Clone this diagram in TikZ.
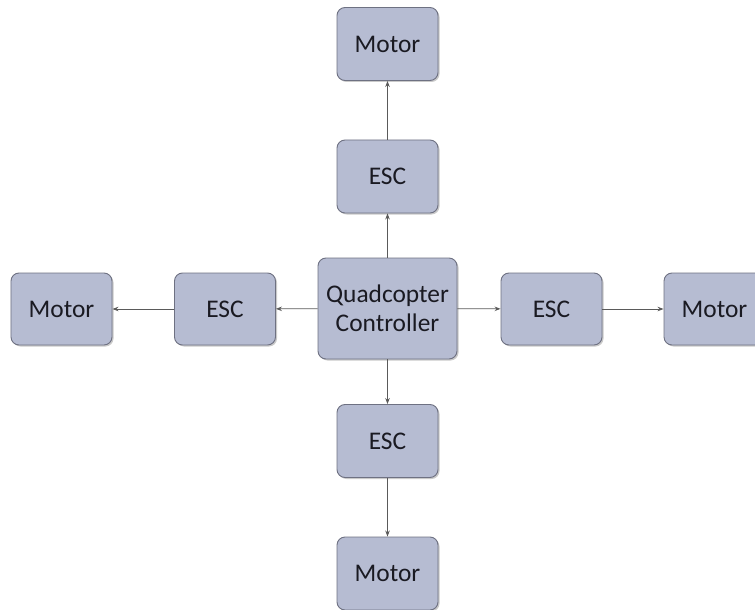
\documentclass[tikz,border=0pt]{standalone}
\usepackage{fontspec}
\setmainfont{Carlito}
\usetikzlibrary{arrows.meta,shadows}
\definecolor{boxfill}{HTML}{B6BCD2}
\definecolor{boxline}{HTML}{6E7182}
\definecolor{arrowc}{HTML}{5A5A5A}
\definecolor{txt}{HTML}{1A1A22}
\tikzset{
  blk/.style={draw=boxline, line width=0.9bp, fill=boxfill, rounded corners=8bp,
    minimum width=101bp, minimum height=73bp, inner sep=0pt, align=center,
    text=txt, font=\fontsize{25.5}{29}\selectfont,
    drop shadow={shadow xshift=1.5bp, shadow yshift=-1.5bp, opacity=0.35, fill=black!60}},
  big/.style={blk, minimum width=139bp, minimum height=101bp},
  conn/.style={draw=arrowc, line width=0.8bp, -{Stealth[length=6bp,width=4.5bp]}}
}
\begin{document}
\begin{tikzpicture}[x=1bp,y=-1bp]
\useasboundingbox (0,0) rectangle (755,610);
\clip (0,0) rectangle (755,610);
\node[big] (qc) at (387.5,308.5) {Quadcopter\\Controller};
\node[blk] (escT) at (387.5,176.5) {ESC};
\node[blk] (motT) at (387.5,44) {Motor};
\node[blk] (escB) at (387.5,441) {ESC};
\node[blk] (motB) at (387.5,573.5) {Motor};
\node[blk, minimum height=72bp] (escL) at (225,309) {ESC};
\node[blk, minimum height=72bp] (motL) at (61.5,309) {Motor};
\node[blk, minimum height=72bp] (escR) at (551.5,309) {ESC};
\node[blk, minimum height=72bp] (motR) at (714.5,309) {Motor};
\draw[conn] (qc) -- (escT);
\draw[conn] (escT) -- (motT);
\draw[conn] (qc) -- (escB);
\draw[conn] (escB) -- (motB);
\draw[conn] (qc) -- (escL);
\draw[conn] (escL) -- (motL);
\draw[conn] (qc) -- (escR);
\draw[conn] (escR) -- (motR);
\end{tikzpicture}
\end{document}
